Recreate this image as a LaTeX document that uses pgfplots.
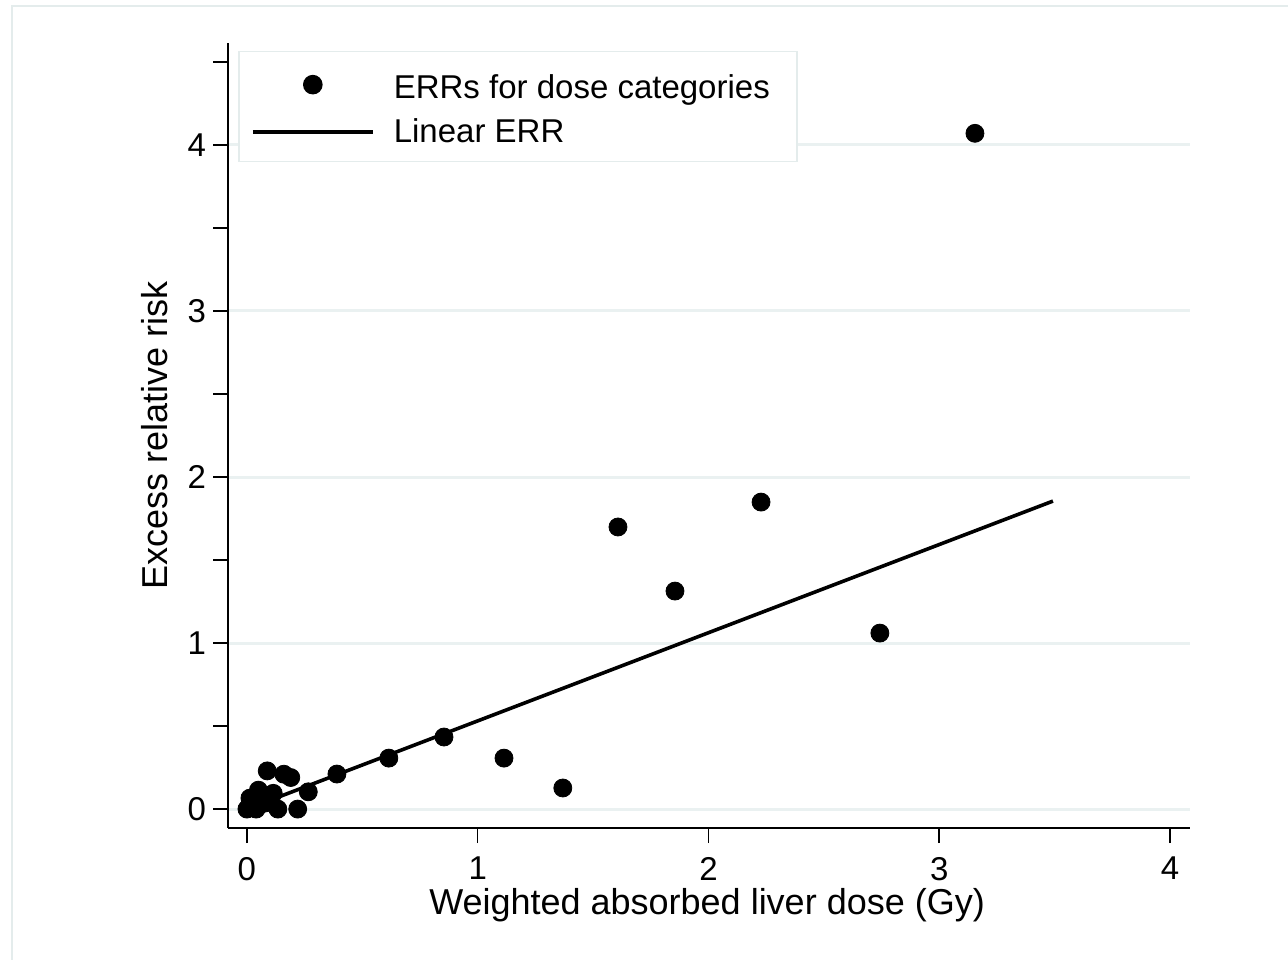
\documentclass[border=0pt]{standalone}
\usepackage{fontspec}
\setmainfont{Liberation Sans}
\usepackage{pgfplots}
\pgfplotsset{compat=1.18}
\definecolor{gridc}{HTML}{EAF1F1}
\definecolor{framec}{HTML}{E4ECEC}
\pgfplotsset{
 legdot/.style={legend image code/.code={\path[draw=none,fill=none] (-1.5pt,0pt) rectangle (68.5pt,0.1pt);\draw[mark repeat=2,mark phase=2,##1] plot coordinates {(0pt,0pt) (30pt,0pt) (60pt,0pt)};}},
 legline/.style={legend image code/.code={\path[draw=none,fill=none] (-1.5pt,0pt) rectangle (68.5pt,0.1pt);\draw[##1] (0pt,0pt) -- (60pt,0pt);}},
}
\begin{document}
\begin{tikzpicture}
\path[use as bounding box] (0,0) rectangle (644pt,480pt);
\draw[framec, line width=0.6pt] (6pt,0pt) -- (6pt,477pt) -- (650pt,477pt);
\begin{axis}[
 at={(114pt,66pt)}, anchor=south west,
 scale only axis, width=481pt, height=392.5pt,
 xmin=-0.082, xmax=4.087, ymin=-0.114, ymax=4.614,
 axis x line*=bottom, axis y line*=left,
 axis line style={line width=0.8pt},
 xtick={0,1,2,3,4}, ytick={0,1,2,3,4},
 minor ytick={0.5,1.5,2.5,3.5,4.5},
 tick align=outside, major tick length=7.5pt, minor tick length=7.5pt,
 tick style={black, line width=0.8pt},
 ymajorgrids, major grid style={gridc, line width=1.5pt},
 tick label style={font=\fontsize{16.5}{20}\selectfont},
 xticklabel style={yshift=-3.5pt},
 /pgf/number format/assume math mode=true,
 xlabel={Weighted absorbed liver dose (Gy)},
 ylabel={Excess relative risk},
 label style={font=\fontsize{18}{22}\selectfont},
 xlabel style={at={(axis description cs:0.498,-0.098)}, anchor=center},
 ylabel style={at={(axis description cs:-0.076,0.5)}, anchor=center},
 legend cell align=left,
 legend style={at={(0.0104,0.99)}, anchor=north west, draw=framec, fill=white,
   line width=0.8pt, font=\fontsize{16.5}{20}\selectfont, inner xsep=5.5pt, inner ysep=6pt, row sep=4.5pt},
]
\addplot[only marks, mark=*, mark size=4.5pt, black, legdot]
 coordinates {
 (0,0) (0.04,0) (0.013,0.066) (0.05,0.114) (0.078,0.036) (0.03,0.03)
 (0.055,0.08) (0.02,0.03)
 (0.114,0.095) (0.088,0.23) (0.16,0.21) (0.19,0.19) (0.134,0) (0.22,0)
 (0.266,0.104) (0.39,0.211) (0.615,0.307) (0.854,0.434) (1.114,0.307)
 (1.369,0.127) (1.608,1.699) (1.855,1.313) (2.228,1.849) (2.743,1.06)
 (3.155,4.07)
 };
\addlegendentry{\rule{0pt}{15.5pt}ERRs for dose categories\rule{6pt}{0pt}}
\addplot[black, line width=1.8pt, no marks, legline]
 coordinates {(0,0) (3.493,1.855)};
\addlegendentry{Linear ERR}
\end{axis}
\end{tikzpicture}
\end{document}
